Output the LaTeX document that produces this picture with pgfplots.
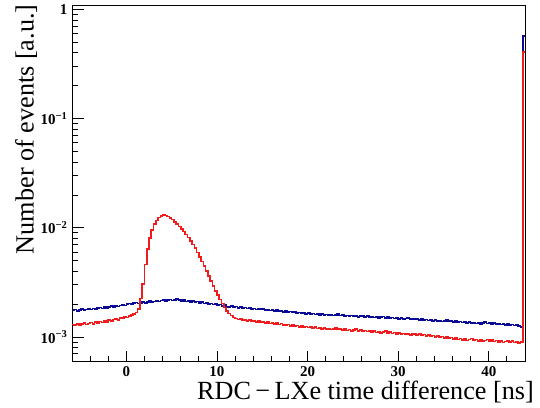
\documentclass[border=0pt]{standalone}
\usepackage{pgfplots}
\pgfplotsset{compat=1.18}
\usepackage{pgfplotstable}
\usepackage{fontspec}
\setmainfont{Liberation Serif}
\definecolor{rootblue}{RGB}{10,10,150}
\definecolor{rootred}{RGB}{238,28,28}

\pgfplotstableread{
x r b
-6.00 1.30e-3 1.75e-3
-5.75 1.28e-3 1.78e-3
-5.50 1.32e-3 1.74e-3
-5.25 1.29e-3 1.77e-3
-5.00 1.31e-3 1.80e-3
-4.75 1.34e-3 1.76e-3
-4.50 1.30e-3 1.79e-3
-4.25 1.33e-3 1.82e-3
-4.00 1.36e-3 1.79e-3
-3.75 1.32e-3 1.83e-3
-3.50 1.37e-3 1.80e-3
-3.25 1.35e-3 1.84e-3
-3.00 1.39e-3 1.86e-3
-2.75 1.36e-3 1.83e-3
-2.50 1.41e-3 1.88e-3
-2.25 1.38e-3 1.85e-3
-2.00 1.43e-3 1.89e-3
-1.75 1.40e-3 1.92e-3
-1.50 1.45e-3 1.88e-3
-1.25 1.47e-3 1.93e-3
-1.00 1.44e-3 1.90e-3
-0.75 1.50e-3 1.95e-3
-0.50 1.48e-3 1.98e-3
-0.25 1.53e-3 1.94e-3
0.00 1.51e-3 2.00e-3
0.25 1.56e-3 2.03e-3
0.50 1.59e-3 1.99e-3
0.75 1.62e-3 2.04e-3
1.00 1.68e-3 2.07e-3
1.25 1.80e-3 2.02e-3
1.50 2.25e-3 2.06e-3
1.75 3.05e-3 2.09e-3
2.00 4.60e-3 2.05e-3
2.25 6.40e-3 2.10e-3
2.50 8.10e-3 2.13e-3
2.75 9.60e-3 2.08e-3
3.00 10.8e-3 2.12e-3
3.25 11.7e-3 2.15e-3
3.50 12.4e-3 2.11e-3
3.75 12.9e-3 2.16e-3
4.00 13.1e-3 2.19e-3
4.25 13.0e-3 2.14e-3
4.50 12.7e-3 2.18e-3
4.75 12.3e-3 2.21e-3
5.00 11.9e-3 2.16e-3
5.25 11.3e-3 2.19e-3
5.50 10.9e-3 2.22e-3
5.75 10.3e-3 2.17e-3
6.00 9.80e-3 2.14e-3
6.25 9.25e-3 2.18e-3
6.50 8.70e-3 2.12e-3
6.75 8.15e-3 2.15e-3
7.00 7.60e-3 2.10e-3
7.25 7.05e-3 2.13e-3
7.50 6.50e-3 2.08e-3
7.75 5.95e-3 2.11e-3
8.00 5.40e-3 2.06e-3
8.25 4.90e-3 2.09e-3
8.50 4.45e-3 2.03e-3
8.75 4.00e-3 2.06e-3
9.00 3.60e-3 2.00e-3
9.25 3.25e-3 2.03e-3
9.50 2.95e-3 1.98e-3
9.75 2.65e-3 2.01e-3
10.00 2.42e-3 1.95e-3
10.25 2.20e-3 1.98e-3
10.50 2.02e-3 1.93e-3
10.75 1.86e-3 1.96e-3
11.00 1.74e-3 1.91e-3
11.25 1.64e-3 1.88e-3
11.50 1.57e-3 1.92e-3
11.75 1.51e-3 1.87e-3
12.00 1.48e-3 1.90e-3
12.25 1.45e-3 1.85e-3
12.50 1.47e-3 1.88e-3
12.75 1.42e-3 1.84e-3
13.00 1.44e-3 1.86e-3
13.25 1.40e-3 1.82e-3
13.50 1.43e-3 1.85e-3
13.75 1.39e-3 1.81e-3
14.00 1.41e-3 1.83e-3
14.25 1.37e-3 1.79e-3
14.50 1.40e-3 1.82e-3
14.75 1.36e-3 1.78e-3
15.00 1.38e-3 1.80e-3
15.25 1.34e-3 1.76e-3
15.50 1.37e-3 1.79e-3
15.75 1.33e-3 1.75e-3
16.00 1.35e-3 1.77e-3
16.25 1.31e-3 1.73e-3
16.50 1.34e-3 1.76e-3
16.75 1.30e-3 1.72e-3
17.00 1.33e-3 1.74e-3
17.25 1.29e-3 1.70e-3
17.50 1.27e-3 1.73e-3
17.75 1.30e-3 1.69e-3
18.00 1.26e-3 1.71e-3
18.25 1.28e-3 1.67e-3
18.50 1.25e-3 1.70e-3
18.75 1.27e-3 1.66e-3
19.00 1.24e-3 1.68e-3
19.25 1.26e-3 1.64e-3
19.50 1.23e-3 1.67e-3
19.75 1.25e-3 1.63e-3
20.00 1.22e-3 1.65e-3
20.25 1.24e-3 1.62e-3
20.50 1.21e-3 1.64e-3
20.75 1.23e-3 1.61e-3
21.00 1.20e-3 1.63e-3
21.25 1.22e-3 1.60e-3
21.50 1.19e-3 1.62e-3
21.75 1.21e-3 1.59e-3
22.00 1.18e-3 1.61e-3
22.25 1.20e-3 1.58e-3
22.50 1.17e-3 1.60e-3
22.75 1.19e-3 1.57e-3
23.00 1.21e-3 1.59e-3
23.25 1.17e-3 1.62e-3
23.50 1.19e-3 1.57e-3
23.75 1.16e-3 1.59e-3
24.00 1.18e-3 1.56e-3
24.25 1.15e-3 1.58e-3
24.50 1.17e-3 1.55e-3
24.75 1.14e-3 1.57e-3
25.00 1.16e-3 1.54e-3
25.25 1.18e-3 1.56e-3
25.50 1.14e-3 1.53e-3
25.75 1.16e-3 1.55e-3
26.00 1.13e-3 1.57e-3
26.25 1.15e-3 1.53e-3
26.50 1.12e-3 1.55e-3
26.75 1.14e-3 1.52e-3
27.00 1.11e-3 1.54e-3
27.25 1.13e-3 1.51e-3
27.50 1.10e-3 1.53e-3
27.75 1.12e-3 1.50e-3
28.00 1.09e-3 1.52e-3
28.25 1.11e-3 1.54e-3
28.50 1.13e-3 1.50e-3
28.75 1.09e-3 1.52e-3
29.00 1.11e-3 1.49e-3
29.25 1.08e-3 1.51e-3
29.50 1.10e-3 1.48e-3
29.75 1.07e-3 1.50e-3
30.00 1.09e-3 1.47e-3
30.25 1.06e-3 1.49e-3
30.50 1.08e-3 1.46e-3
30.75 1.05e-3 1.48e-3
31.00 1.07e-3 1.50e-3
31.25 1.04e-3 1.46e-3
31.50 1.06e-3 1.48e-3
31.75 1.08e-3 1.45e-3
32.00 1.04e-3 1.47e-3
32.25 1.06e-3 1.44e-3
32.50 1.03e-3 1.46e-3
32.75 1.05e-3 1.43e-3
33.00 1.02e-3 1.45e-3
33.25 1.04e-3 1.42e-3
33.50 1.01e-3 1.44e-3
33.75 1.03e-3 1.41e-3
34.00 1.00e-3 1.43e-3
34.25 1.02e-3 1.40e-3
34.50 0.99e-3 1.42e-3
34.75 1.01e-3 1.39e-3
35.00 0.98e-3 1.41e-3
35.25 1.00e-3 1.43e-3
35.50 0.97e-3 1.39e-3
35.75 0.99e-3 1.41e-3
36.00 0.96e-3 1.38e-3
36.25 0.98e-3 1.40e-3
36.50 0.95e-3 1.37e-3
36.75 0.97e-3 1.39e-3
37.00 0.94e-3 1.36e-3
37.25 0.96e-3 1.38e-3
37.50 0.93e-3 1.35e-3
37.75 0.95e-3 1.37e-3
38.00 0.97e-3 1.34e-3
38.25 0.93e-3 1.36e-3
38.50 0.95e-3 1.33e-3
38.75 0.92e-3 1.35e-3
39.00 0.94e-3 1.32e-3
39.25 0.91e-3 1.34e-3
39.50 0.93e-3 1.37e-3
39.75 0.95e-3 1.33e-3
40.00 0.92e-3 1.35e-3
40.25 0.94e-3 1.32e-3
40.50 0.91e-3 1.34e-3
40.75 0.93e-3 1.31e-3
41.00 0.90e-3 1.33e-3
41.25 0.92e-3 1.30e-3
41.50 0.89e-3 1.32e-3
41.75 0.91e-3 1.29e-3
42.00 0.93e-3 1.31e-3
42.25 0.90e-3 1.28e-3
42.50 0.92e-3 1.30e-3
42.75 0.89e-3 1.27e-3
43.00 0.91e-3 1.29e-3
43.25 0.88e-3 1.26e-3
43.50 0.90e-3 1.24e-3
43.75 4.10e-1 5.70e-1
44.00 4.10e-1 5.70e-1
}\histdata

\begin{document}
\begin{tikzpicture}
\begin{axis}[
  name=main,
  scale only axis,
  width=453bp, height=356bp,
  ymode=log,
  xmin=-6, xmax=44,
  ymin=5.94e-4, ymax=1.083,
  axis line style={line width=0.9bp, black},
  tick style={line width=0.9bp, black},
  tick align=inside,
  xtick pos=left, ytick pos=left,
  xtick={0,10,20,30,40},
  xticklabels={\textbf{0},\textbf{10},\textbf{20},\textbf{30},\textbf{40}},
  minor xtick={-4,-2,2,4,6,8,12,14,16,18,22,24,26,28,32,34,36,38,42},
  ytick={1e-3,1e-2,1e-1,1},
  yticklabels={\textbf{10\textsuperscript{−3}},\textbf{10\textsuperscript{−2}},\textbf{10\textsuperscript{−1}},\textbf{1}},
  minor ytick={6e-4,7e-4,8e-4,9e-4,2e-3,3e-3,4e-3,5e-3,6e-3,7e-3,8e-3,9e-3,2e-2,3e-2,4e-2,5e-2,6e-2,7e-2,8e-2,9e-2,2e-1,3e-1,4e-1,5e-1,6e-1,7e-1,8e-1,9e-1},
  major tick length=12bp,
  minor tick length=6.5bp,
  x tick style={/pgfplots/major tick length=11bp,/pgfplots/minor tick length=5.7bp},
  ticklabel style={font=\fontsize{15bp}{15bp}\selectfont\bfseries},
  xticklabel style={anchor=north, inner sep=0pt, yshift=-4.5bp},
  yticklabel style={anchor=east, inner sep=0pt, xshift=-4.5bp},
  xlabel={RDC\,−\,LXe time difference [ns]},
  ylabel={Number of events [a.u.]},
  label style={font=\fontsize{26.2bp}{26.2bp}\selectfont, inner sep=0pt},
  xlabel style={at={(axis description cs:1.0199,-0.1056)}, anchor=base east},
  ylabel style={at={(axis description cs:-0.126,1.004)}, anchor=north east},
  clip=true,
]
\addplot[const plot mark left, rootblue, line width=1.6bp, no marks] table[x=x, y=b] {\histdata};
\addplot[const plot mark left, rootred, line width=1.6bp, no marks] table[x=x, y=r] {\histdata};
\end{axis}
\pgfresetboundingbox
\path[use as bounding box] ([shift={(-72bp,-46.3bp)}]main.south west) rectangle ([shift={(15bp,5.7bp)}]main.north east);
\end{tikzpicture}
\end{document}
